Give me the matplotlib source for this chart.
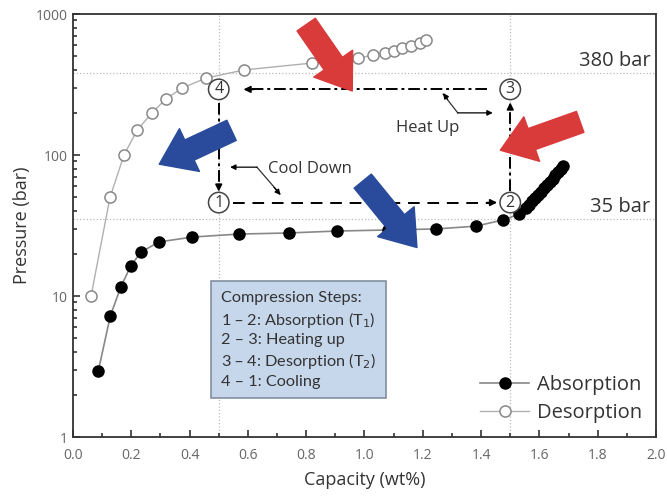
import matplotlib.pyplot as plt
import numpy as np
from matplotlib.ticker import MultipleLocator, LogLocator, NullFormatter, FixedLocator

# absorption isotherm (filled)
abs_x = [0.087, 0.128, 0.164, 0.198, 0.233, 0.296, 0.41, 0.57, 0.74, 0.906, 1.08, 1.245, 1.382,
         1.475, 1.53, 1.555, 1.565, 1.575, 1.585, 1.595, 1.605, 1.615, 1.625, 1.635, 1.645,
         1.655, 1.665, 1.675, 1.682]
abs_y = [2.95, 7.2, 11.6, 16.3, 20.5, 24.2, 26.2, 27.5, 28.0, 28.9, 29.4, 29.9, 31.3,
         34.6, 38.0, 42.0, 44.0, 47.0, 49.5, 52.0, 55.0, 58.0, 61.0, 64.5, 68.0,
         72.0, 76.0, 80.0, 84.0]

# desorption isotherm (open)
des_x = [0.062, 0.127, 0.175, 0.22, 0.271, 0.319, 0.374, 0.456, 0.586, 0.82, 0.978,
         1.03, 1.07, 1.10, 1.13, 1.16, 1.19, 1.21]
des_y = [10, 50, 100, 150, 199, 250, 298, 351, 401, 449, 487,
         511, 530, 550, 570, 590, 620, 650]

# cycle corner points
cyc_x = [0.5, 1.5, 1.5, 0.5]
cyc_y = [46, 46, 292, 292]
cyc_lab = ['1', '2', '3', '4']

steps = ['Compression Steps:', '1 \u2013 2: Absorption (T$_1$)', '2 \u2013 3: Heating up',
         '3 \u2013 4: Desorption (T$_2$)', '4 \u2013 1: Cooling']

plt.rcParams['font.family'] = ['Open Sans', 'DejaVu Sans']

fig = plt.figure(figsize=(6.67, 4.97), dpi=100)
ax = fig.add_axes([0.1094, 0.1207, 0.8741, 0.8511])

# reference grid lines
for xv in [0.5, 1.5]:
    ax.axvline(xv, color='#bbbbbb', ls=':', lw=0.9, zorder=0)
for yv in [380, 35]:
    ax.axhline(yv, color='#bbbbbb', ls=':', lw=0.9, zorder=0)

ax.plot(abs_x, abs_y, '-o', color='#888888', lw=1.2, mfc='black', mec='black', ms=8,
        label='Absorption', zorder=3)
ax.plot(des_x, des_y, '-o', color='#b0b0b0', lw=1.0, mfc='white', mec='#888888', ms=8,
        mew=1.1, label='Desorption', zorder=3)

ax.set_yscale('log')
ax.set_xlim(0, 2.0)
ax.set_ylim(1, 1000)
ax.xaxis.set_major_locator(MultipleLocator(0.2))
ax.xaxis.set_minor_locator(MultipleLocator(0.1))
ax.yaxis.set_major_locator(FixedLocator([1, 10, 100, 1000]))
ax.set_yticklabels(['1', '10', '100', '1000'])
ax.yaxis.set_minor_locator(LogLocator(base=10, subs=np.arange(2, 10)))
ax.yaxis.set_minor_formatter(NullFormatter())
ax.tick_params(which='both', direction='in', colors='#333333', labelcolor='#666666',
               labelsize=10, width=1.2)
ax.tick_params(which='major', length=5)
ax.tick_params(which='minor', length=3)
ax.tick_params(axis='x', which='major', pad=8)
for sp in ax.spines.values():
    sp.set_color('#333333')
    sp.set_linewidth(1.3)

ax.set_xlabel('Capacity (wt%)', fontsize=13, color='#333333', labelpad=6)
ax.set_ylabel('Pressure (bar)', fontsize=13, color='#333333', labelpad=4)

ax.text(1.98, 395, '380 bar', ha='right', va='bottom', fontsize=14.5, color='#333333')
ax.text(1.98, 36.5, '35 bar', ha='right', va='bottom', fontsize=14.5, color='#333333')

# cycle lines
ax.plot([1.42, 0.60], [292, 292], color='black', ls=(0, (6, 2, 1.5, 2)), lw=1.4, zorder=4)
ax.annotate('', xy=(0.585, 292), xytext=(0.62, 292),
            arrowprops=dict(arrowstyle='-|>', color='black', lw=1.2, mutation_scale=10,
                            shrinkA=0, shrinkB=0), zorder=4)
ax.plot([0.5, 0.5], [232, 58], color='black', ls=(0, (6, 2, 1.5, 2)), lw=1.4, zorder=4)
ax.annotate('', xy=(0.5, 55), xytext=(0.5, 62),
            arrowprops=dict(arrowstyle='-|>', color='black', lw=1.2, mutation_scale=10,
                            shrinkA=0, shrinkB=0), zorder=4)
ax.plot([0.55, 1.43], [46, 46], color='black', ls=(0, (6, 4)), lw=1.4, zorder=4)
ax.annotate('', xy=(1.455, 46), xytext=(1.42, 46),
            arrowprops=dict(arrowstyle='-|>', color='black', lw=1.2, mutation_scale=10,
                            shrinkA=0, shrinkB=0), zorder=4)
ax.plot([1.5, 1.5], [56, 225], color='black', ls=(0, (6, 2, 1.5, 2)), lw=1.4, zorder=4)
ax.annotate('', xy=(1.5, 236), xytext=(1.5, 215),
            arrowprops=dict(arrowstyle='-|>', color='black', lw=1.2, mutation_scale=10,
                            shrinkA=0, shrinkB=0), zorder=4)

for cx, cy, cl in zip(cyc_x, cyc_y, cyc_lab):
    ax.text(cx, cy, cl, ha='center', va='center', fontsize=11.5, color='#333333', zorder=6,
            bbox=dict(boxstyle='circle,pad=0.14', fc='white', ec='#444444', lw=1.1))

# callouts
ax.plot([0.631, 0.71], [82, 53], color='#333333', lw=0.9, zorder=4)
ax.annotate('', xy=(0.539, 82), xytext=(0.631, 82),
            arrowprops=dict(arrowstyle='-|>', color='black', lw=0.9, mutation_scale=8,
                            shrinkA=0, shrinkB=0), zorder=4)
ax.annotate('', xy=(0.712, 52), xytext=(0.69, 59),
            arrowprops=dict(arrowstyle='-|>', color='black', lw=0.9, mutation_scale=8,
                            shrinkA=0, shrinkB=0), zorder=4)
ax.text(0.67, 80, 'Cool Down', ha='left', va='center', fontsize=12, color='#333333')

ax.plot([1.32, 1.27], [199, 270], color='#333333', lw=0.9, zorder=4)
ax.annotate('', xy=(1.27, 275), xytext=(1.285, 248),
            arrowprops=dict(arrowstyle='-|>', color='black', lw=0.9, mutation_scale=8,
                            shrinkA=0, shrinkB=0), zorder=4)
ax.annotate('', xy=(1.44, 199), xytext=(1.32, 199),
            arrowprops=dict(arrowstyle='-|>', color='black', lw=0.9, mutation_scale=8,
                            shrinkA=0, shrinkB=0), zorder=4)
ax.text(1.215, 156, 'Heat Up', ha='center', va='center', fontsize=12, color='#333333')

# big coloured arrows (axes fraction)
def big_arrow(tail, tip, col):
    ax.annotate('', xy=tip, xytext=tail, xycoords='axes fraction', textcoords='axes fraction',
                arrowprops=dict(arrowstyle='simple,head_length=24,head_width=34,tail_width=16',
                                mutation_scale=1, fc=col, ec=col, shrinkA=0, shrinkB=0),
                zorder=7)

big_arrow((0.400, 0.975), (0.479, 0.818), '#d93a3a')
big_arrow((0.870, 0.745), (0.733, 0.678), '#d93a3a')
big_arrow((0.272, 0.725), (0.148, 0.645), '#2a4b9b')
big_arrow((0.497, 0.605), (0.590, 0.448), '#2a4b9b')

# steps box
ax.text(0.254, 0.345, '\n'.join(steps), transform=ax.transAxes, ha='left', va='top',
        fontsize=11.7, color='#333333', family=['Lato', 'DejaVu Sans'], linespacing=1.3,
        bbox=dict(boxstyle='square,pad=0.6', fc='#c6d7ec', ec='#7a8898', lw=1.1), zorder=8)

leg = ax.legend(loc='lower right', fontsize=14.5, frameon=False, handlelength=2.4,
                borderaxespad=0.3, labelspacing=0.4, handletextpad=0.4)
for t in leg.get_texts():
    t.set_color('#333333')

fig.savefig('out.png', dpi=100)
